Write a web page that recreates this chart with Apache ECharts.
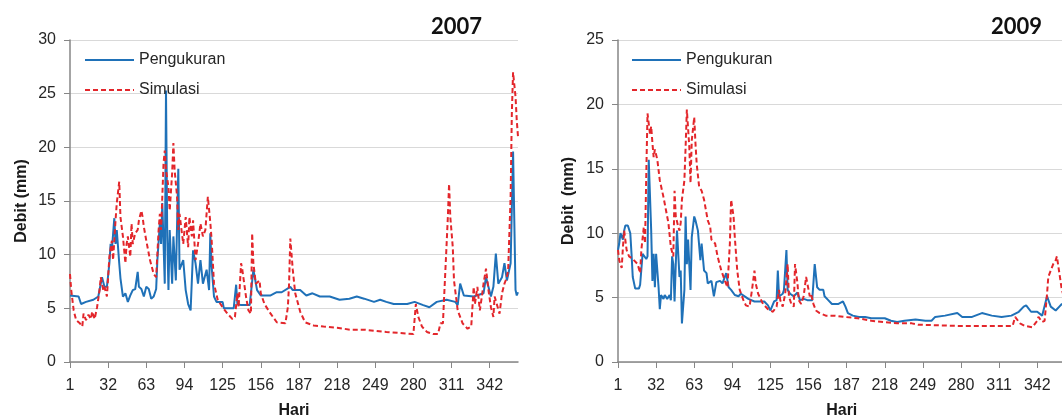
<!DOCTYPE html>
<html>
<head>
<meta charset="utf-8">
<script src="https://cdn.jsdelivr.net/npm/echarts/dist/echarts.min.js"></script>
<style>
  html, body { margin: 0; padding: 0; background: #fff; }
  #chart { width: 1062px; height: 419px; }
</style>
</head>
<body>
<div id="chart"></div>
<script>
// tick labels on the day axis
const dayTicks = [1, 32, 63, 94, 125, 156, 187, 218, 249, 280, 311, 342];

// 2007 - Pengukuran (measured)
const obsDays2007 = [1, 8, 10, 14, 20, 24, 27, 29, 31, 33, 34, 35, 37, 38, 39, 41, 42, 44, 46, 48, 50, 52, 54, 56, 57, 59, 61, 63, 65, 67, 69, 71, 72, 74, 75, 76, 78, 79, 80, 81, 82, 84, 85, 87, 89, 90, 93, 95, 97, 99, 101, 103, 105, 107, 109, 112, 114, 115, 116, 118, 120, 125, 126, 134, 136, 137, 140, 147, 150, 153, 156, 164, 169, 173, 180, 182, 188, 193, 198, 204, 212, 220, 228, 234, 240, 248, 253, 258, 264, 275, 281, 288, 293, 299, 307, 314, 316, 318, 321, 329, 337, 339, 343, 345, 347, 349, 352, 354, 356, 359, 361, 363, 364, 365];
const obs2007 = [6.2, 6.1, 5.4, 5.6, 5.8, 6.1, 7.9, 7.0, 7.0, 9.2, 11.0, 10.4, 13.4, 11.0, 12.3, 9.2, 7.8, 6.1, 6.4, 5.6, 6.2, 6.7, 6.8, 8.4, 7.0, 6.8, 6.1, 7.0, 6.8, 5.9, 6.1, 6.8, 9.5, 12.9, 11.0, 14.8, 7.3, 25.3, 11.7, 6.7, 12.3, 7.3, 11.7, 7.6, 18.0, 8.6, 9.5, 6.7, 5.4, 4.8, 10.4, 9.2, 7.3, 9.5, 7.3, 8.6, 6.7, 12.0, 9.0, 6.1, 5.6, 5.6, 5.0, 5.0, 7.2, 5.4, 5.3, 5.3, 8.6, 6.7, 6.2, 6.2, 6.5, 6.5, 7.0, 6.7, 6.7, 6.2, 6.4, 6.1, 6.1, 5.8, 5.9, 6.1, 5.9, 5.6, 5.8, 5.6, 5.4, 5.4, 5.6, 5.3, 5.1, 5.6, 5.8, 5.6, 5.3, 7.3, 6.2, 6.1, 6.4, 7.9, 6.1, 7.0, 10.1, 7.3, 7.9, 9.2, 7.6, 9.2, 19.6, 6.7, 6.2, 6.5];

// 2007 - Simulasi (simulated)
const simDays2007 = [1, 2, 4, 6, 9, 11, 12, 14, 16, 18, 19, 21, 23, 25, 26, 28, 29, 31, 33, 35, 36, 38, 39, 41, 42, 44, 46, 47, 48, 50, 51, 52, 54, 56, 57, 59, 60, 61, 63, 66, 69, 71, 73, 74, 75, 77, 78, 79, 81, 82, 84, 85, 86, 88, 89, 90, 93, 95, 97, 98, 100, 101, 103, 105, 107, 109, 111, 113, 115, 116, 118, 121, 125, 129, 133, 135, 137, 138, 140, 141, 144, 146, 148, 149, 150, 152, 155, 156, 159, 164, 169, 176, 178, 179, 180, 182, 184, 188, 192, 199, 207, 218, 229, 241, 258, 280, 282, 284, 287, 291, 296, 300, 302, 304, 305, 307, 308, 309, 310, 312, 313, 316, 320, 324, 327, 329, 330, 332, 334, 336, 337, 339, 341, 343, 345, 346, 348, 350, 352, 354, 356, 357, 359, 360, 361, 363, 364, 365];
const sim2007 = [8.2, 6.7, 4.8, 3.9, 3.6, 3.3, 4.5, 3.9, 4.4, 4.0, 4.7, 4.0, 5.1, 6.7, 7.9, 6.7, 7.0, 6.1, 9.8, 11.3, 9.5, 13.2, 14.8, 16.8, 13.5, 11.7, 9.2, 11.0, 11.7, 9.8, 12.9, 11.0, 12.0, 12.3, 13.2, 14.1, 13.5, 12.6, 11.3, 9.5, 8.2, 7.9, 12.3, 13.8, 12.3, 18.5, 19.7, 17.9, 16.3, 14.1, 17.6, 20.4, 17.9, 15.4, 12.3, 13.8, 11.0, 13.5, 10.7, 13.5, 11.7, 13.2, 9.5, 11.0, 12.9, 11.7, 12.3, 15.4, 13.0, 11.5, 7.3, 5.8, 5.1, 4.5, 4.0, 4.2, 6.4, 5.1, 9.2, 8.6, 6.1, 4.8, 4.5, 12.0, 9.2, 7.3, 7.6, 6.4, 5.4, 4.5, 3.7, 3.6, 5.1, 7.3, 11.5, 8.6, 6.4, 4.7, 3.7, 3.4, 3.3, 3.2, 3.0, 3.0, 2.8, 2.6, 5.4, 4.2, 3.3, 2.8, 2.6, 2.6, 3.6, 3.6, 6.1, 11.0, 13.5, 16.6, 13.5, 10.7, 7.6, 4.8, 3.6, 3.1, 3.3, 7.0, 5.4, 7.0, 4.8, 6.4, 7.3, 8.7, 6.7, 5.1, 4.2, 6.1, 5.3, 4.5, 6.4, 7.3, 7.9, 8.6, 15.4, 23.2, 27.0, 24.7, 22.5, 21.0];

// 2009 - Pengukuran (measured)
const obsDays2009 = [1, 2, 3, 5, 6, 7, 9, 11, 12, 13, 15, 18, 19, 21, 22, 24, 25, 26, 28, 29, 30, 31, 32, 34, 35, 36, 38, 39, 41, 43, 44, 45, 46, 47, 48, 49, 51, 52, 53, 55, 56, 57, 58, 60, 61, 63, 64, 66, 68, 69, 71, 73, 74, 77, 79, 81, 84, 86, 89, 91, 93, 96, 99, 101, 104, 107, 112, 120, 123, 125, 128, 130, 131, 132, 135, 136, 138, 139, 141, 144, 147, 149, 152, 155, 159, 161, 163, 165, 168, 169, 172, 175, 180, 184, 186, 188, 192, 197, 202, 207, 212, 218, 223, 228, 234, 243, 251, 256, 259, 267, 277, 281, 289, 297, 305, 313, 321, 327, 331, 333, 337, 342, 346, 350, 353, 357, 360, 362, 365];
const obs2009 = [8.7, 9.2, 10.0, 9.5, 10.2, 10.6, 10.6, 10.0, 8.4, 6.6, 5.7, 5.7, 6.0, 8.4, 8.3, 8.0, 8.2, 15.7, 10.2, 6.3, 8.4, 5.8, 8.4, 5.8, 4.1, 5.2, 4.9, 5.2, 4.9, 5.2, 4.8, 8.2, 7.6, 4.7, 7.6, 10.2, 6.6, 7.1, 3.0, 5.6, 11.3, 7.6, 9.5, 5.6, 9.7, 11.3, 11.0, 10.2, 7.9, 9.2, 7.1, 6.9, 6.1, 6.3, 5.1, 6.2, 6.3, 6.1, 6.9, 5.8, 5.6, 5.2, 5.1, 5.3, 5.1, 4.9, 4.7, 4.7, 4.4, 4.0, 4.7, 4.8, 7.1, 5.1, 5.3, 5.6, 8.7, 5.6, 5.3, 5.1, 5.4, 4.8, 4.9, 4.8, 4.8, 7.6, 5.8, 5.6, 5.6, 5.1, 4.8, 4.5, 4.5, 4.7, 4.3, 3.8, 3.6, 3.5, 3.5, 3.4, 3.4, 3.4, 3.2, 3.1, 3.2, 3.3, 3.2, 3.2, 3.5, 3.6, 3.8, 3.5, 3.5, 3.8, 3.6, 3.5, 3.6, 3.9, 4.3, 4.4, 3.9, 3.9, 3.6, 5.1, 4.3, 4.0, 4.3, 4.5, 4.3];

// 2009 - Simulasi (simulated)
const simDays2009 = [1, 2, 4, 5, 6, 8, 10, 13, 17, 19, 20, 22, 23, 24, 25, 27, 28, 29, 30, 31, 33, 35, 38, 40, 42, 44, 46, 47, 48, 50, 51, 52, 53, 55, 56, 57, 59, 60, 61, 63, 64, 65, 67, 69, 71, 74, 76, 77, 80, 82, 85, 88, 90, 92, 93, 95, 96, 98, 100, 103, 105, 108, 110, 112, 113, 115, 119, 123, 127, 130, 132, 133, 135, 137, 139, 140, 142, 144, 145, 147, 148, 150, 152, 154, 156, 157, 158, 160, 162, 165, 170, 177, 185, 196, 207, 218, 228, 240, 245, 261, 278, 294, 308, 322, 324, 325, 328, 332, 338, 342, 343, 346, 348, 350, 351, 353, 355, 357, 358, 360, 362, 363];
const sim2009 = [8.7, 7.9, 7.3, 8.9, 10.2, 8.7, 8.2, 8.0, 7.6, 6.9, 8.7, 10.5, 9.2, 14.6, 19.3, 17.7, 18.3, 17.0, 15.9, 16.5, 15.7, 14.1, 12.8, 11.8, 10.8, 8.9, 8.2, 13.3, 11.3, 10.5, 10.2, 10.8, 12.6, 14.1, 16.7, 19.6, 16.7, 13.9, 17.2, 19.0, 17.0, 15.4, 13.6, 13.3, 12.6, 11.0, 10.5, 9.5, 9.2, 8.2, 7.1, 6.3, 5.8, 9.2, 12.6, 11.3, 9.7, 7.1, 5.6, 4.8, 4.4, 4.3, 5.6, 7.1, 6.1, 5.3, 4.5, 4.1, 3.9, 4.3, 5.6, 4.8, 4.3, 5.3, 7.6, 5.1, 4.5, 4.3, 7.6, 6.1, 4.8, 4.5, 5.1, 6.6, 5.6, 5.1, 5.3, 4.5, 4.0, 3.8, 3.6, 3.6, 3.5, 3.4, 3.2, 3.1, 3.0, 3.0, 2.9, 2.85, 2.8, 2.8, 2.8, 2.8, 3.5, 3.6, 3.0, 2.8, 2.7, 3.2, 3.5, 3.1, 3.2, 5.3, 6.6, 7.1, 7.6, 7.9, 8.2, 6.9, 5.6, 5.3];

function pairs(days, vals) {
  return days.map((d, i) => [d, vals[i]]);
}

const axisColor = '#868686';
const labelFont = { fontFamily: 'Liberation Sans', fontSize: 16, color: '#262626' };
const nameFont = { fontFamily: 'Liberation Sans', fontSize: 16, fontWeight: 'bold', color: '#1a1a1a' };

function makeX(idx) {
  return {
    gridIndex: idx,
    type: 'value',
    min: 1,
    max: 365,
    name: 'Hari',
    nameLocation: 'middle',
    nameGap: 41,
    nameTextStyle: nameFont,
    axisLine: { show: true, lineStyle: { color: axisColor, width: 1.5 } },
    axisTick: { show: true, length: 6, customValues: dayTicks, lineStyle: { color: axisColor } },
    axisLabel: Object.assign({ margin: 16, customValues: dayTicks }, labelFont),
    splitLine: { show: false }
  };
}

function makeY(idx, max, gap) {
  return {
    gridIndex: idx,
    type: 'value',
    min: 0,
    max: max,
    interval: 5,
    name: idx === 0 ? 'Debit (mm)' : 'Debit  (mm)',
    nameLocation: 'middle',
    nameGap: gap,
    nameTextStyle: nameFont,
    axisLine: { show: true, lineStyle: { color: axisColor, width: 1.5 } },
    axisTick: { show: true, length: 6, lineStyle: { color: axisColor } },
    axisLabel: Object.assign({ margin: 14 }, labelFont),
    splitLine: { show: true, lineStyle: { color: '#d9d9d9', width: 1 } }
  };
}

const blueLine = { color: '#1f71b8', width: 2 };
const redLine = { color: '#e3262b', width: 2, type: [5, 3] };

function legendAt(left) {
  return {
    left: left,
    top: 52,
    padding: 0,
    orient: 'vertical',
    itemWidth: 49,
    itemHeight: 14,
    itemGap: 14,
    itemStyle: { opacity: 0 },
    textStyle: { fontFamily: 'Liberation Sans', fontSize: 16, color: '#262626' },
    data: ['Pengukuran', 'Simulasi']
  };
}

const titleFont = { fontFamily: 'Lato', fontWeight: 'bold', fontSize: 22, color: '#111' };

const chart = echarts.init(document.getElementById('chart'));
chart.setOption({
  animation: false,
  backgroundColor: '#fff',
  title: [
    { text: '2007', right: 575, top: 11, textStyle: titleFont },
    { text: '2009', right: 15, top: 11, textStyle: titleFont }
  ],
  legend: [legendAt(84), legendAt(631)],
  grid: [
    { left: 70, top: 40, width: 448, height: 322, outerBoundsMode: 'none' },
    { left: 618, top: 40, width: 447.5, height: 322, outerBoundsMode: 'none' }
  ],
  xAxis: [makeX(0), makeX(1)],
  yAxis: [makeY(0, 30, 40), makeY(1, 25, 41)],
  series: [
    { name: 'Pengukuran', type: 'line', xAxisIndex: 0, yAxisIndex: 0, symbol: 'none', lineStyle: blueLine, itemStyle: { color: blueLine.color }, data: pairs(obsDays2007, obs2007) },
    { name: 'Simulasi', type: 'line', xAxisIndex: 0, yAxisIndex: 0, symbol: 'none', lineStyle: redLine, itemStyle: { color: redLine.color }, data: pairs(simDays2007, sim2007) },
    { name: 'Pengukuran', type: 'line', xAxisIndex: 1, yAxisIndex: 1, symbol: 'none', lineStyle: blueLine, itemStyle: { color: blueLine.color }, data: pairs(obsDays2009, obs2009) },
    { name: 'Simulasi', type: 'line', xAxisIndex: 1, yAxisIndex: 1, symbol: 'none', lineStyle: redLine, itemStyle: { color: redLine.color }, data: pairs(simDays2009, sim2009) }
  ]
});
</script>
</body>
</html>
